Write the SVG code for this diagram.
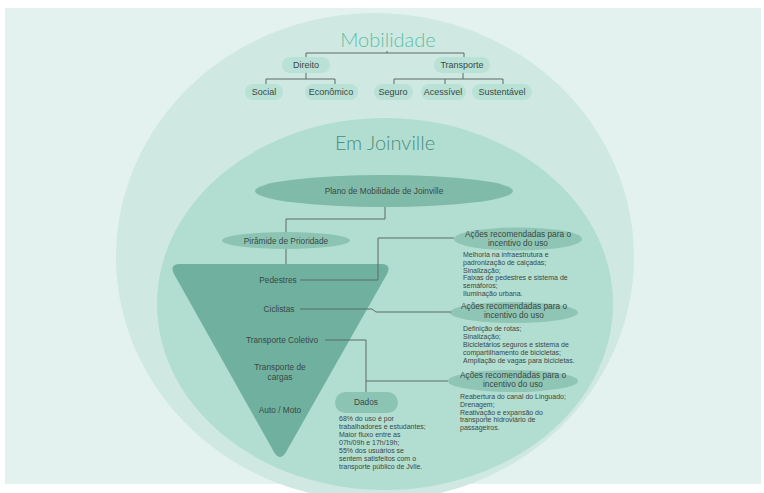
<svg xmlns="http://www.w3.org/2000/svg" width="764" height="493" viewBox="0 0 764 493">
<style>
.t{font-family:"Liberation Sans",Arial,sans-serif;fill:#3a4844}
.top{font-size:9px;text-anchor:middle}
.lbl{font-size:8.3px;text-anchor:middle}
.body{font-size:7px}
.title{font-family:Lato,"Noto Sans",sans-serif;font-weight:300;text-anchor:middle}
.pill{fill:#b9e1d6}
.conn{fill:none;stroke:#5d6b67;stroke-width:1}
</style>
<rect x="0" y="0" width="764" height="493" fill="#ffffff"/>
<rect x="5" y="8" width="756" height="476" fill="#e3f2ee"/>
<ellipse cx="375" cy="257" rx="259" ry="244" fill="#cfe9e2"/>
<ellipse cx="385" cy="304" rx="228" ry="186" fill="#b2ddd1"/>
<text class="title" x="388" y="47" font-size="20" fill="#5bbfa4">Mobilidade</text>
<text class="title" x="385" y="150" font-size="20" fill="#4a8e7d">Em Joinville</text>

<g id="direito"><rect class="pill" x="282" y="57" width="48" height="16" rx="8"/><text class="t top" x="306" y="68">Direito</text></g>
<g id="transporte"><rect class="pill" x="434" y="57" width="56" height="16" rx="8"/><text class="t top" x="462" y="68">Transporte</text></g>
<g id="social"><rect class="pill" x="245" y="84" width="38" height="16" rx="8"/><text class="t top" x="264" y="95">Social</text></g>
<g id="economico"><rect class="pill" x="305" y="84" width="53" height="16" rx="8"/><text class="t top" x="331" y="95">Econômico</text></g>
<g id="seguro"><rect class="pill" x="374" y="84" width="39" height="16" rx="8"/><text class="t top" x="393" y="95">Seguro</text></g>
<g id="acessivel"><rect class="pill" x="421" y="84" width="45" height="16" rx="8"/><text class="t top" x="443" y="95">Acessível</text></g>
<g id="sustentavel"><rect class="pill" x="472" y="84" width="60" height="16" rx="8"/><text class="t top" x="502" y="95">Sustentável</text></g>

<g id="plano"><ellipse cx="384" cy="191" rx="129" ry="16" fill="#80baa9"/><text class="t lbl" x="384" y="194">Plano de Mobilidade de Joinville</text></g>
<g id="piramide"><ellipse cx="286" cy="240.5" rx="64" ry="8.5" fill="#8cc4b4"/><text class="t lbl" x="286" y="243.5">Pirâmide de Prioridade</text></g>

<g id="triangulo">
<path d="M180 264H381Q392 264 387 274L286 452Q280 462 274 452L174 274Q169 264 180 264Z" fill="#70b09f"/>
<text class="t lbl" x="278" y="283">Pedestres</text>
<text class="t lbl" x="279" y="312">Ciclistas</text>
<text class="t lbl" x="282" y="343">Transporte Coletivo</text>
<text class="t lbl" x="280" y="370">Transporte de</text>
<text class="t lbl" x="280" y="380">cargas</text>
<text class="t lbl" x="280" y="413">Auto / Moto</text>
</g>

<g id="acoes1">
<ellipse cx="518" cy="239" rx="64" ry="11.5" fill="#8ec5b5"/>
<text class="t lbl" x="518" y="236.5" font-size="8">Ações recomendadas para o</text>
<text class="t lbl" x="518" y="245.5" font-size="8">incentivo do uso</text>
<text class="t body"><tspan x="463" y="257">Melhoria na infraestrutura e</tspan><tspan x="463" y="265">padronização de calçadas;</tspan><tspan x="463" y="273">Sinalização;</tspan><tspan x="463" y="280">Faixas de pedestres e sistema de</tspan><tspan x="463" y="288">semáforos;</tspan><tspan x="463" y="296">Iluminação urbana.</tspan></text>
</g>

<g id="acoes2">
<ellipse cx="514" cy="312.5" rx="64" ry="10.5" fill="#8ec5b5"/>
<text class="t lbl" x="514" y="309" font-size="8">Ações recomendadas para o</text>
<text class="t lbl" x="514" y="318" font-size="8">incentivo do uso</text>
<text class="t body"><tspan x="463" y="331">Definição de rotas;</tspan><tspan x="463" y="339">Sinalização;</tspan><tspan x="463" y="347">Bicicletários seguros e sistema de</tspan><tspan x="463" y="355">compartilhamento de bicicletas;</tspan><tspan x="463" y="363">Ampliação de vagas para bicicletas.</tspan></text>
</g>

<g id="acoes3">
<ellipse cx="513" cy="381" rx="65" ry="11" fill="#8ec5b5"/>
<text class="t lbl" x="513" y="377.5" font-size="8">Ações recomendadas para o</text>
<text class="t lbl" x="513" y="386.5" font-size="8">incentivo do uso</text>
<text class="t body"><tspan x="460" y="399">Reabertura do canal do Linguado;</tspan><tspan x="460" y="407">Drenagem;</tspan><tspan x="460" y="415">Reativação e expansão do</tspan><tspan x="460" y="422">transporte hidroviário de</tspan><tspan x="460" y="430">passageiros.</tspan></text>
</g>

<g id="dados">
<rect x="335" y="392" width="63" height="21" rx="10.5" fill="#8cc4b4"/>
<text class="t lbl" x="366" y="405">Dados</text>
<text class="t body"><tspan x="339" y="421">68% do uso é por</tspan><tspan x="339" y="429">trabalhadores e estudantes;</tspan><tspan x="339" y="437">Maior fluxo entre as</tspan><tspan x="339" y="445">07h/09h e 17h/19h;</tspan><tspan x="339" y="453">55% dos usuários se</tspan><tspan x="339" y="461">sentem satisfeitos com o</tspan><tspan x="339" y="469">transporte público de Jvlle.</tspan></text>
</g>

<g id="connectors">
<path class="conn" d="M387 51V53M306 57V53H464V57"/>
<path class="conn" d="M306 73V79M266 84V79H335V84"/>
<path class="conn" d="M463 73V79M394 84V79H503V84M445 79V84"/>
<path class="conn" d="M385 207V219H286V232M286 249V264"/>
<path class="conn" d="M300 280H378V238H454"/>
<path class="conn" d="M300 309H372L376 312H451"/>
<path class="conn" d="M325 340H366V392M366 381H448"/>
</g>
</svg>
